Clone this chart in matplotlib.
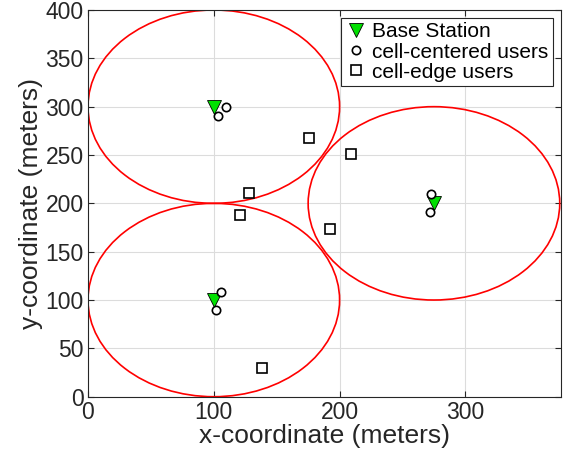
import numpy as np
import matplotlib

matplotlib.use("Agg")
import matplotlib.pyplot as plt
from matplotlib.patches import Circle

plt.rcParams["font.family"] = ["Liberation Sans", "DejaVu Sans"]

# base stations (cell centres) and cell radius
bs_x = [100, 100, 275]
bs_y = [300, 100, 200]
cell_radius = 100

# users
center_x = [109.5, 103.7, 105.8, 101.8, 272.8, 272.2]
center_y = [300.0, 290.6, 108.3, 90.0, 209.6, 191.0]
edge_x = [175.6, 208.7, 128.3, 120.6, 192.3, 138.6]
edge_y = [268.0, 250.7, 210.3, 187.9, 173.7, 30.0]

fig = plt.figure(figsize=(5.65, 4.57), dpi=100)
ax = fig.add_axes([88 / 565, 1 - 396.7 / 457, (561 - 88) / 565, (396.7 - 10) / 457])

for cx, cy in zip(bs_x, bs_y):
    ax.add_patch(Circle((cx, cy), cell_radius, fill=False, ec="red", lw=1.2, zorder=2))

ax.plot(bs_x, bs_y, "v", ms=10, mfc="#00e000", mec="black", mew=0.6, ls="none",
        label="Base Station", zorder=3)
ax.plot(center_x, center_y, "o", ms=6, mfc="white", mec="black", mew=1.2, ls="none",
        label="cell-centered users", zorder=4)
ax.plot(edge_x, edge_y, "s", ms=7, mfc="white", mec="black", mew=1.2, ls="none",
        label="cell-edge users", zorder=4)

ax.set_xlim(0, 376)
ax.set_ylim(0, 400)
ax.set_xticks([0, 100, 200, 300])
ax.set_yticks(range(0, 401, 50))
ax.grid(color="#dcdcdc", lw=0.8)
ax.set_axisbelow(True)
ax.tick_params(direction="in", top=True, right=True, labelsize=16.5,
               colors="#262626", length=4, pad=3)
for s in ax.spines.values():
    s.set_color("#262626")
    s.set_linewidth(0.8)
ax.set_xlabel("x-coordinate (meters)", fontsize=19, color="#262626", labelpad=0)
ax.set_ylabel("y-coordinate (meters)", fontsize=19, color="#262626", labelpad=2)

leg = ax.legend(loc="upper right", fontsize=15, handletextpad=0.3, handlelength=1.0,
                borderpad=0.2, labelspacing=0.05, fancybox=False, framealpha=1,
                borderaxespad=0.4)
leg.get_frame().set_edgecolor("#262626")
leg.get_frame().set_linewidth(0.8)

fig.savefig("out.png", dpi=100)
